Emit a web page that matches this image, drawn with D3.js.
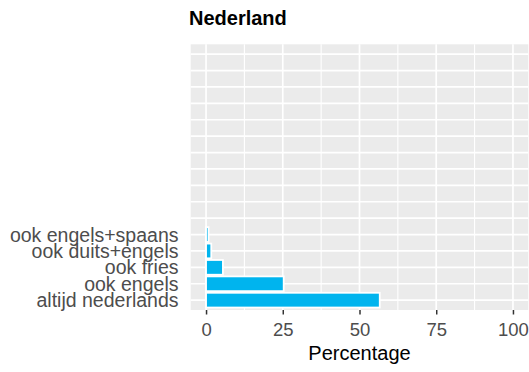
<!DOCTYPE html>
<html>
<head>
<meta charset="utf-8">
<script src="https://cdn.jsdelivr.net/npm/d3@7"></script>
<style>
  html, body { margin: 0; padding: 0; background: #fff; }
  svg { display: block; font-family: "Liberation Sans", Arial, Helvetica, sans-serif; }
</style>
</head>
<body>
<svg id="chart" width="529" height="372"></svg>
<script>
// Language use in the Netherlands (percentage of respondents)
const title = "Nederland";
const categories = ["altijd nederlands", "ook engels", "ook fries", "ook duits+engels", "ook engels+spaans"];
const percentages = [56.6, 25.3, 5.5, 1.7, 0.8];
const emptySlots = 11; // unused category rows shown above the bars
const xTicks = [0, 25, 50, 75, 100];
const xMinorTicks = [12.5, 37.5, 62.5, 87.5];
const xTitle = "Percentage";

const svg = d3.select("#chart");
const panel = { left: 190.7, right: 528.3, top: 44.3, bottom: 310 };

const x = d3.scaleLinear().domain([-5, 105]).range([panel.left, panel.right]);

// one row per slot, index 0 at the bottom
const slots = d3.range(categories.length + emptySlots);
const y = d3.scalePoint()
  .domain(slots)
  .range([panel.bottom, panel.top])
  .padding(0.6);
const step = y.step();

// panel background
svg.append("rect")
  .attr("x", panel.left).attr("y", panel.top)
  .attr("width", panel.right - panel.left)
  .attr("height", panel.bottom - panel.top)
  .attr("fill", "#EBEBEB");

const grid = svg.append("g");
grid.selectAll("line.minor")
  .data(xMinorTicks)
  .join("line")
  .attr("class", "minor")
  .attr("x1", d => x(d)).attr("x2", d => x(d))
  .attr("y1", panel.top).attr("y2", panel.bottom)
  .attr("stroke", "#fff").attr("stroke-width", 1.1);
grid.selectAll("line.majorx")
  .data(xTicks)
  .join("line")
  .attr("class", "majorx")
  .attr("x1", d => x(d)).attr("x2", d => x(d))
  .attr("y1", panel.top).attr("y2", panel.bottom)
  .attr("stroke", "#fff").attr("stroke-width", 1.7);
grid.selectAll("line.majory")
  .data(slots)
  .join("line")
  .attr("class", "majory")
  .attr("x1", panel.left).attr("x2", panel.right)
  .attr("y1", d => y(d)).attr("y2", d => y(d))
  .attr("stroke", "#fff").attr("stroke-width", 1.7);

// bars
const bh = step * 0.9;
svg.append("g")
  .selectAll("rect")
  .data(categories.map((c, i) => ({ c, v: percentages[i], i })))
  .join("rect")
  .attr("x", x(0))
  .attr("y", d => y(d.i) - bh / 2)
  .attr("width", d => x(d.v) - x(0))
  .attr("height", bh)
  .attr("fill", "#00B4EE")
  .attr("stroke", "#fff")
  .attr("stroke-width", 1.8);

// y labels
svg.append("g")
  .selectAll("text")
  .data(categories)
  .join("text")
  .attr("x", 178.5)
  .attr("y", (d, i) => y(i))
  .attr("dy", "0.36em")
  .attr("text-anchor", "end")
  .attr("fill", "#4D4D4D")
  .attr("font-size", "19.5px")
  .text(d => d);

// x axis
const xAxis = d3.axisBottom(x)
  .tickValues(xTicks)
  .tickSize(4.5)
  .tickPadding(5)
  .tickFormat(d3.format("d"));
const gx = svg.append("g")
  .attr("transform", `translate(0,${panel.bottom})`)
  .call(xAxis);
gx.select(".domain").remove();
gx.selectAll(".tick line").attr("stroke", "#333").attr("stroke-width", 1.5);
gx.selectAll(".tick text")
  .attr("fill", "#4D4D4D")
  .attr("font-size", "18.5px")
  .attr("font-family", "Liberation Sans, Arial, sans-serif")
  .attr("dy", null)
  .attr("y", 25.5);

svg.append("text")
  .attr("x", (panel.left + panel.right) / 2)
  .attr("y", 360)
  .attr("text-anchor", "middle")
  .attr("fill", "#000")
  .attr("font-size", "20px")
  .text(xTitle);

svg.append("text")
  .attr("x", 189)
  .attr("y", 25.3)
  .attr("fill", "#000")
  .attr("font-size", "20px")
  .attr("font-weight", "bold")
  .text(title);
</script>
</body>
</html>
